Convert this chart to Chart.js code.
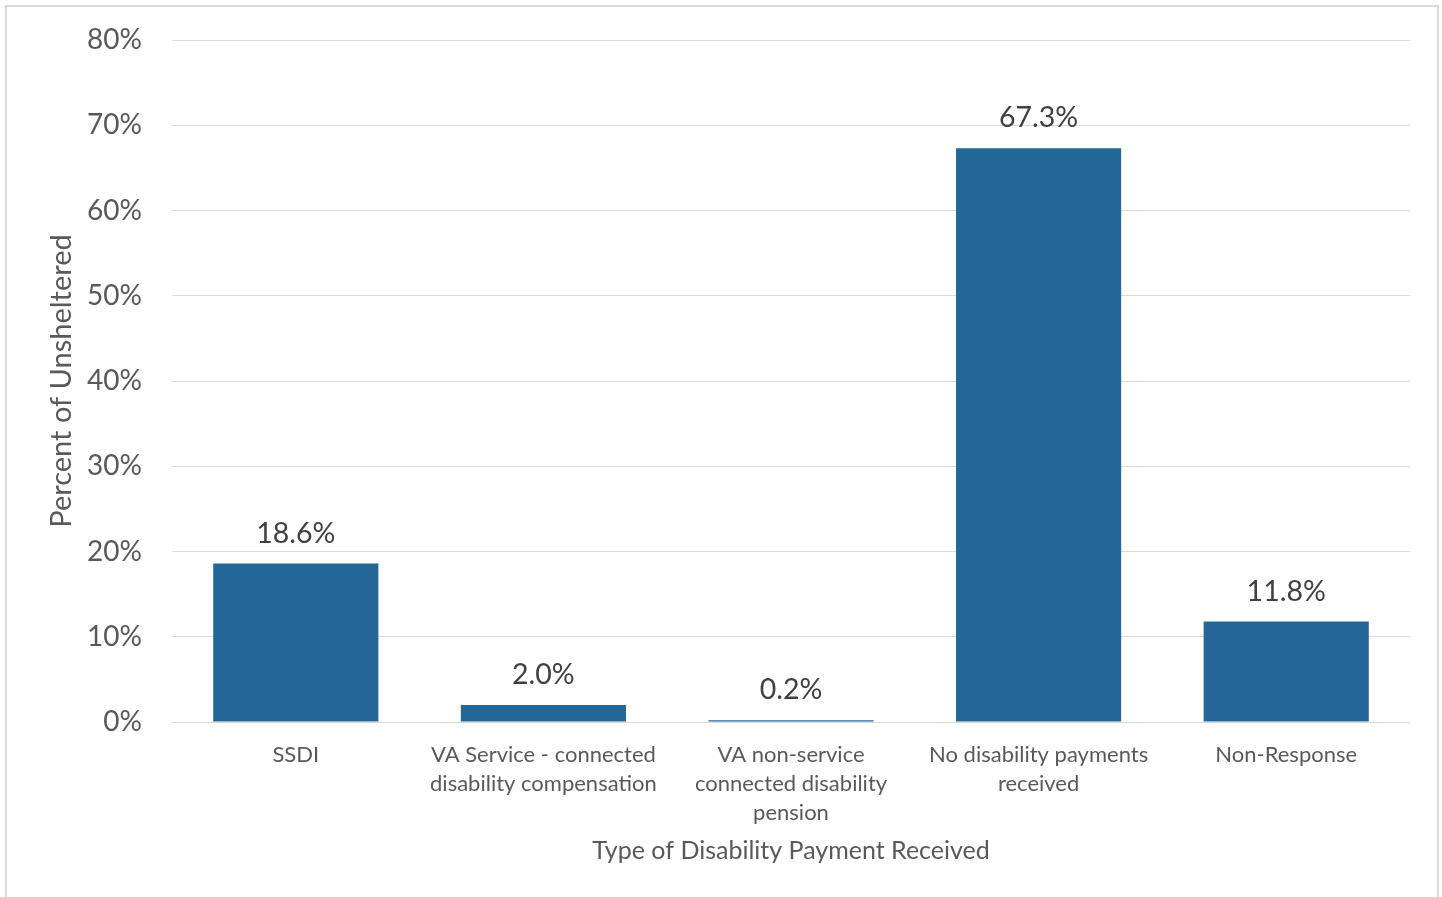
<!DOCTYPE html>
<html>
<head>
<meta charset="utf-8">
<script src="https://cdn.jsdelivr.net/npm/chart.js@4/dist/chart.umd.min.js"></script>
<style>
  html, body { margin: 0; padding: 0; background: #ffffff; overflow: hidden; }
  #frame { position: absolute; left: 5px; top: 5px; width: 1434px; height: 910px; border: 2px solid #d9d9d9; box-sizing: border-box; }
  #c { position: absolute; left: 0; top: 0; }
</style>
</head>
<body>
<div id="frame"></div>
<canvas id="c" width="1442" height="897"></canvas>
<script>
const categories = [
  "SSDI",
  ["VA Service - connected", "disability compensation"],
  ["VA non-service", "connected disability", "pension"],
  ["No disability payments", "received"],
  "Non-Response"
];
const values = [18.6, 2.0, 0.2, 67.3, 11.8];
const yTicks = [0, 10, 20, 30, 40, 50, 60, 70, 80];
const xTitle = "Type of Disability Payment Received";
const yTitle = "Percent of Unsheltered";

const FONT = "Lato, 'Liberation Sans', sans-serif";
const TEXT = "#595959";

const labelPlugin = {
  id: 'barLabels',
  afterDatasetsDraw(chart) {
    const ctx = chart.ctx;
    const meta = chart.getDatasetMeta(0);
    ctx.save();
    ctx.font = "28.5px " + FONT;
    ctx.fillStyle = "#404040";
    ctx.textAlign = 'center';
    ctx.textBaseline = 'middle';
    meta.data.forEach((bar, i) => {
      ctx.fillText(values[i].toFixed(1) + '%', bar.x, bar.y - 30);
    });
    ctx.restore();
  }
};

new Chart(document.getElementById('c'), {
  type: 'bar',
  data: {
    labels: categories,
    datasets: [{
      data: values,
      backgroundColor: '#236698',
      borderWidth: 0,
      barPercentage: 0.667,
      categoryPercentage: 1.0
    }]
  },
  plugins: [labelPlugin],
  options: {
    responsive: false,
    animation: false,
    devicePixelRatio: 1,
    layout: { padding: { top: 40, right: 32, left: 0, bottom: 0 } },
    plugins: { legend: { display: false }, tooltip: { enabled: false } },
    scales: {
      x: {
        grid: { display: false, drawTicks: false },
        border: { display: false },
        ticks: {
          color: TEXT,
          font: { family: FONT, size: 22, lineHeight: '29px' },
          padding: 18,
          maxRotation: 0,
          autoSkip: false
        },
        title: {
          display: true,
          text: xTitle,
          color: TEXT,
          font: { family: FONT, size: 25, lineHeight: 1.2 },
          padding: { top: 31, bottom: 31 }
        },
        afterFit(scale) { scale.height = 175; scale.paddingLeft = 0; scale.paddingRight = 0; }
      },
      y: {
        min: 0,
        max: 80,
        afterBuildTicks(scale) { scale.ticks = yTicks.map(v => ({ value: v })); },
        grid: { color: '#d9d9d9', lineWidth: 1, drawTicks: false },
        border: { display: false },
        ticks: {
          color: TEXT,
          font: { family: FONT, size: 28 },
          padding: 30,
          callback: v => v + '%'
        },
        title: {
          display: true,
          text: yTitle,
          color: TEXT,
          font: { family: FONT, size: 29, lineHeight: 1.2 },
          padding: { top: 44, bottom: 0 }
        },
        afterFit(scale) { scale.width = 172; scale.paddingTop = 0; scale.paddingBottom = 0; }
      }
    }
  }
});
</script>
</body>
</html>
